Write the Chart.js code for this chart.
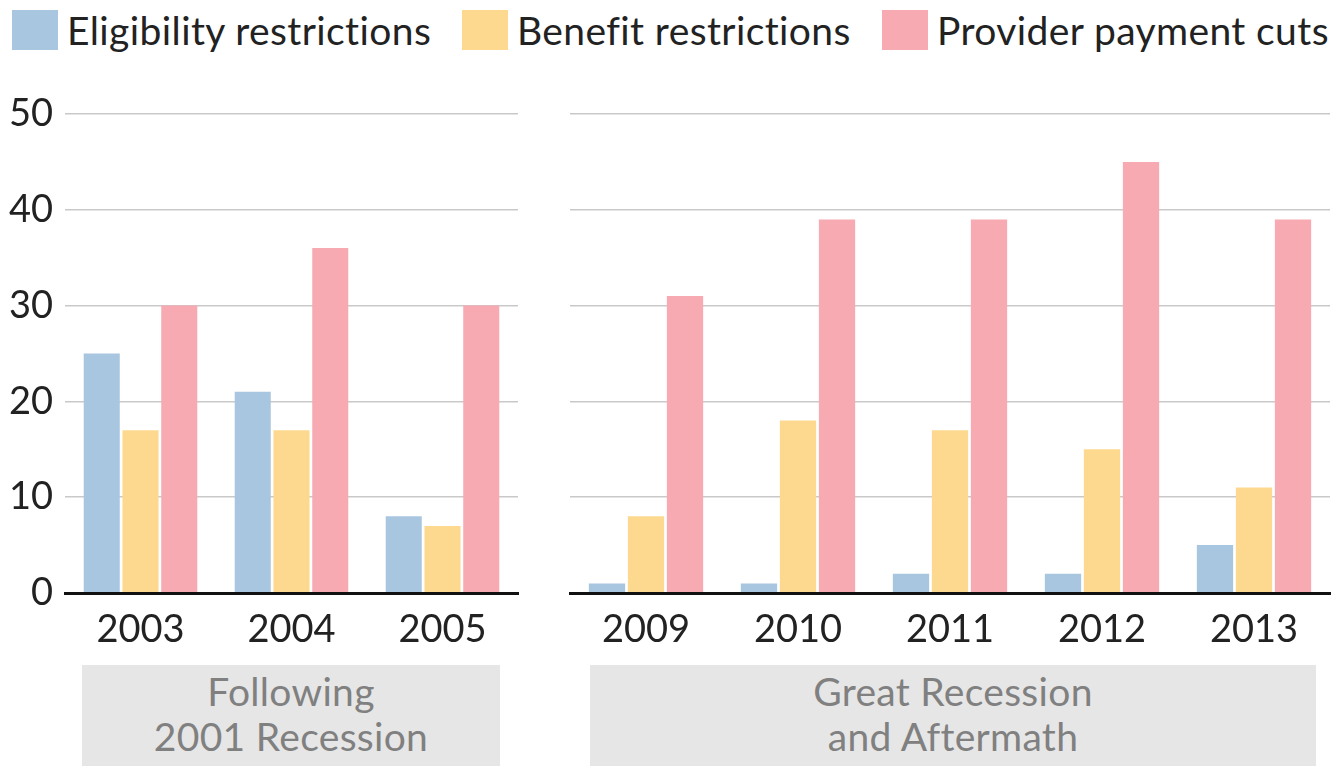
<!DOCTYPE html>
<html lang="en">
  <head>
    <meta charset="UTF-8" />
    <title>Medicaid cuts by recession</title>
    <script src="https://cdn.jsdelivr.net/npm/chart.js@4.4.1/dist/chart.umd.min.js"></script>
    <style>
      body { margin: 0; background: #fff; font-family: Lato, sans-serif; }
      #wrap { position: relative; width: 1337px; height: 766px; overflow: hidden; }
      canvas { position: absolute; top: 0; }
      .key { position: absolute; top: 8px; height: 44px; font-size: 39px; line-height: 44px; color: #222; white-space: nowrap; letter-spacing: 0.4px; }
      .key span { position: absolute; left: 0; top: 2px; width: 46px; height: 40px; }
      .key b { font-weight: normal; position: absolute; left: 55px; top: 0; }
      .group { position: absolute; top: 665px; height: 101px; background: #e6e6e6; color: #808080;
               font-size: 39px; line-height: 45px; text-align: center; padding-top: 4px; box-sizing: border-box; letter-spacing: 0.3px; }
    </style>
  </head>
  <body>
    <div id="wrap">
      <div id="legend"></div>
      <canvas id="leftChart" width="530" height="665" style="left:0"></canvas>
      <canvas id="rightChart" width="797" height="665" style="left:540px"></canvas>
      <div class="group" style="left:82px;width:418px">Following<br>2001 Recession</div>
      <div class="group" style="left:590px;width:726px">Great Recession<br>and Aftermath</div>
    </div>
    <script>

    const seriesNames = ['Eligibility restrictions', 'Benefit restrictions', 'Provider payment cuts'];
    const colors = ['#a9c6e0', '#fdd98f', '#f7aab1'];

    const earlyYears = ['2003', '2004', '2005'];
    const earlyEligibility = [25, 21, 8];
    const earlyBenefit = [17, 17, 7];
    const earlyProvider = [30, 36, 30];

    const lateYears = ['2009', '2010', '2011', '2012', '2013'];
    const lateEligibility = [1, 1, 2, 2, 5];
    const lateBenefit = [8, 18, 17, 15, 11];
    const lateProvider = [31, 39, 39, 45, 39];

    const yTicks = [0, 10, 20, 30, 40, 50];

    // legend as plain html
    const legendX = [12, 462, 882];
    const legend = document.getElementById('legend');
    seriesNames.forEach((name, i) => {
        const d = document.createElement('div');
        d.className = 'key';
        d.style.left = legendX[i] + 'px';
        d.innerHTML = '<span style="background:' + colors[i] + '"></span><b>' + name + '</b>';
        legend.appendChild(d);
    });

    function makeChart(id, labels, values, showY, yWidth, padRight) {
        const ctx = document.getElementById(id).getContext('2d');
        return new Chart(ctx, {
            type: 'bar',
            data: {
                labels: labels,
                datasets: values.map((v, i) => ({
                    label: seriesNames[i],
                    data: v,
                    backgroundColor: colors[i],
                    borderWidth: 0,
                    categoryPercentage: 0.77,
                    barPercentage: 0.93
                }))
            },
            options: {
                responsive: false,
                animation: false,
                layout: { padding: { top: 114, right: padRight, left: 0, bottom: 0 } },
                plugins: { legend: { display: false }, tooltip: { enabled: false } },
                scales: {
                    x: {
                        grid: { display: false, drawTicks: false },
                        border: { display: true, color: '#111', width: 3, z: 1 },
                        ticks: { color: '#222', font: { family: 'Lato', size: 38 }, padding: 14 },
                        afterFit: s => { s.height = 72; }
                    },
                    y: {
                        min: 0, max: 50,
                        afterBuildTicks: s => { s.ticks = yTicks.map(v => ({ value: v })); },
                        grid: { color: '#c9c9c9', lineWidth: 1.5, drawTicks: false },
                        border: { display: false },
                        ticks: { display: showY, color: '#222', font: { family: 'Lato', size: 38 }, padding: 12 },
                        afterFit: s => { s.width = yWidth; }
                    }
                }
            }
        });
    }

    makeChart('leftChart', earlyYears, [earlyEligibility, earlyBenefit, earlyProvider], true, 65, 12);
    makeChart('rightChart', lateYears, [lateEligibility, lateBenefit, lateProvider], false, 30, 7);
    </script>
  </body>
</html>
